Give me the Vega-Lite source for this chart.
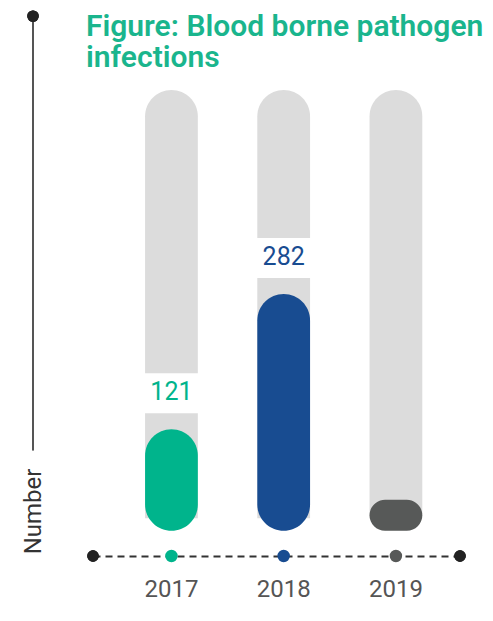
{
  "$schema": "https://vega.github.io/schema/vega-lite/v6.json",
  "width": 367,
  "height": 466,
  "autosize": {"type": "none"},
  "padding": {"left": 93, "top": 90, "right": 33, "bottom": 65},
  "background": "white",
  "config": {"view": {"stroke": null}},
  "title": {
    "text": ["Figure: Blood borne pathogen", "infections"],
    "anchor": "start",
    "frame": "group",
    "dx": -7,
    "offset": -63,
    "font": "Roboto",
    "fontSize": 30,
    "fontWeight": 600,
    "color": "#1AB58D",
    "lineHeight": 31
  },
  "data": {
    "values": [
      {"year": "2017", "value": 121},
      {"year": "2018", "value": 282},
      {"year": "2019", "value": 37}
    ]
  },
  "encoding": {
    "x": {
      "field": "year",
      "type": "nominal",
      "scale": {"paddingInner": 0.53, "paddingOuter": 0.4, "align": 0.58},
      "axis": {
        "title": null,
        "domainDash": [7, 5],
        "domainColor": "#333333",
        "domainWidth": 2,
        "ticks": false,
        "labelAngle": 0,
        "labelFont": "Roboto",
        "labelFontSize": 24,
        "labelFontWeight": 400,
        "labelColor": "#555555",
        "labelPadding": 21
      }
    }
  },
  "layer": [
    {
      "mark": {"type": "bar", "color": "#DCDCDC", "cornerRadiusTopLeft": 26.5, "cornerRadiusTopRight": 26.5},
      "encoding": {
        "y": {
          "datum": 525,
          "type": "quantitative",
          "scale": {"domain": [-30, 525], "nice": false, "zero": false},
          "axis": {
            "title": "Number",
            "domain": false,
            "ticks": false,
            "labels": false,
            "grid": false,
            "titleX": -60,
            "titleY": 421,
            "titleAngle": -90,
            "titleAlign": "center",
            "titleBaseline": "middle",
            "titleFont": "Roboto",
            "titleFontSize": 24,
            "titleFontWeight": 400,
            "titleColor": "#333333"
          }
        },
        "y2": {"datum": 15}
      }
    },
    {
      "transform": [{"filter": "datum.year != '2019'"}],
      "mark": {"type": "bar", "color": "white", "width": 57, "yOffset": -16, "y2Offset": -56},
      "encoding": {
        "y": {"field": "value", "type": "quantitative"},
        "y2": {"field": "value"}
      }
    },
    {
      "mark": {"type": "bar", "cornerRadius": 26.5},
      "encoding": {
        "y": {"field": "value", "type": "quantitative"},
        "y2": {"datum": 0},
        "color": {
          "field": "year",
          "type": "nominal",
          "scale": {"domain": ["2017", "2018", "2019"], "range": ["#00B48C", "#184C91", "#575958"]},
          "legend": null
        }
      }
    },
    {
      "transform": [{"filter": "datum.year != '2019'"}],
      "mark": {"type": "text", "yOffset": -37, "font": "Roboto", "fontSize": 25, "baseline": "middle"},
      "encoding": {
        "y": {"field": "value", "type": "quantitative"},
        "text": {"field": "value", "type": "quantitative"},
        "color": {"field": "year", "type": "nominal", "legend": null}
      }
    },
    {
      "mark": {"type": "point", "filled": true, "size": 154, "opacity": 1},
      "encoding": {
        "y": {"datum": -30, "type": "quantitative"},
        "color": {"field": "year", "type": "nominal", "legend": null}
      }
    },
    {
      "mark": {"type": "point", "filled": true, "size": 130, "opacity": 1, "color": "#222222"},
      "encoding": {
        "x": {"value": 0},
        "y": {"datum": -30, "type": "quantitative"}
      }
    },
    {
      "mark": {"type": "point", "filled": true, "size": 130, "opacity": 1, "color": "#222222"},
      "encoding": {
        "x": {"value": "width"},
        "y": {"datum": -30, "type": "quantitative"}
      }
    },
    {
      "mark": {"type": "rule", "color": "#555555", "strokeWidth": 2},
      "encoding": {
        "x": {"value": -60},
        "y": {"datum": 613, "type": "quantitative"},
        "y2": {"datum": 96}
      }
    },
    {
      "mark": {"type": "point", "filled": true, "size": 130, "opacity": 1, "color": "#222222"},
      "encoding": {
        "x": {"value": -60},
        "y": {"datum": 613, "type": "quantitative"}
      }
    }
  ]
}
